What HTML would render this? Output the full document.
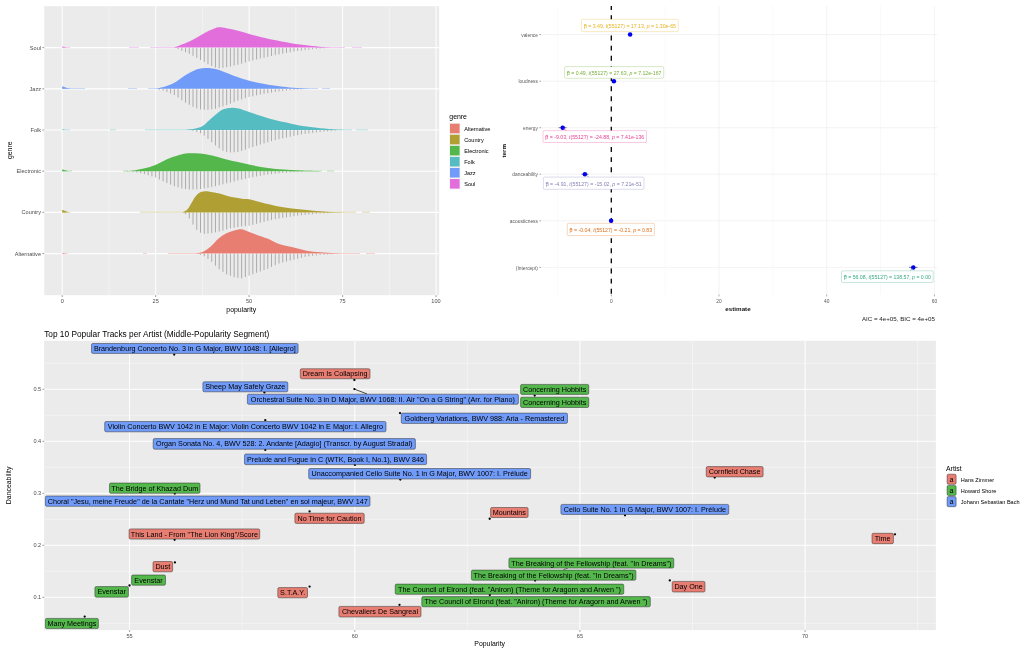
<!DOCTYPE html>
<html lang="en"><head><meta charset="utf-8"><title>Spotify genre popularity plots</title>
<style>html,body{margin:0;padding:0;background:#fff;}body{width:1024px;height:651px;overflow:hidden;font-family:'Liberation Sans', Arial, sans-serif;}svg{display:block;}</style>
</head><body>
<svg width="1024" height="651" viewBox="0 0 1024 651" font-family="'Liberation Sans', Arial, sans-serif">
<rect width="1024" height="651" fill="#FFFFFF"/>
<g id="plot1">
<rect x="44.2" y="6.2" width="395.0" height="289.0" fill="#EBEBEB"/>
<line x1="108.9" x2="108.9" y1="6.2" y2="295.2" stroke="#FAFAFA" stroke-width="0.55"/>
<line x1="202.4" x2="202.4" y1="6.2" y2="295.2" stroke="#FAFAFA" stroke-width="0.55"/>
<line x1="295.8" x2="295.8" y1="6.2" y2="295.2" stroke="#FAFAFA" stroke-width="0.55"/>
<line x1="389.3" x2="389.3" y1="6.2" y2="295.2" stroke="#FAFAFA" stroke-width="0.55"/>
<line x1="62.2" x2="62.2" y1="6.2" y2="295.2" stroke="#FFFFFF" stroke-width="1.0"/>
<line x1="155.7" x2="155.7" y1="6.2" y2="295.2" stroke="#FFFFFF" stroke-width="1.0"/>
<line x1="249.1" x2="249.1" y1="6.2" y2="295.2" stroke="#FFFFFF" stroke-width="1.0"/>
<line x1="342.6" x2="342.6" y1="6.2" y2="295.2" stroke="#FFFFFF" stroke-width="1.0"/>
<line x1="436.0" x2="436.0" y1="6.2" y2="295.2" stroke="#FFFFFF" stroke-width="1.0"/>
<line x1="44.2" x2="439.2" y1="47.6" y2="47.6" stroke="#FFFFFF" stroke-width="1.15"/>
<line x1="44.2" x2="439.2" y1="88.8" y2="88.8" stroke="#FFFFFF" stroke-width="1.15"/>
<line x1="44.2" x2="439.2" y1="130.0" y2="130.0" stroke="#FFFFFF" stroke-width="1.15"/>
<line x1="44.2" x2="439.2" y1="171.2" y2="171.2" stroke="#FFFFFF" stroke-width="1.15"/>
<line x1="44.2" x2="439.2" y1="212.4" y2="212.4" stroke="#FFFFFF" stroke-width="1.15"/>
<line x1="44.2" x2="439.2" y1="253.6" y2="253.6" stroke="#FFFFFF" stroke-width="1.15"/>
<path d="M178.08,47.60v1.62 M181.82,47.60v3.09 M185.55,47.60v4.63 M189.29,47.60v6.17 M193.03,47.60v8.21 M196.77,47.60v10.25 M200.51,47.60v12.34 M204.24,47.60v14.50 M207.98,47.60v16.66 M211.72,47.60v18.39 M215.46,47.60v19.99 M219.20,47.60v20.64 M222.93,47.60v20.21 M226.67,47.60v19.63 M230.41,47.60v18.81 M234.15,47.60v18.00 M237.89,47.60v17.18 M241.62,47.60v16.08 M245.36,47.60v14.95 M249.10,47.60v13.83 M252.84,47.60v12.86 M256.58,47.60v11.90 M260.31,47.60v10.94 M264.05,47.60v10.06 M267.79,47.60v9.23 M271.53,47.60v8.40 M275.27,47.60v7.57 M279.00,47.60v6.79 M282.74,47.60v6.07 M286.48,47.60v5.35 M290.22,47.60v4.63 M293.96,47.60v3.91 M297.69,47.60v3.34 M301.43,47.60v2.90 M305.17,47.60v2.46 M308.91,47.60v2.03 M312.65,47.60v1.60 M316.38,47.60v1.27 M320.12,47.60v0.93 M323.86,47.60v0.60" stroke="#828282" stroke-width="0.6" fill="none"/>
<line x1="62.2" x2="70" y1="47.40" y2="47.40" stroke="#E26EDC" stroke-width="0.7" opacity="0.55"/>
<line x1="129" x2="139" y1="47.40" y2="47.40" stroke="#E26EDC" stroke-width="0.7" opacity="0.55"/>
<line x1="150" x2="178" y1="47.40" y2="47.40" stroke="#E26EDC" stroke-width="0.7" opacity="0.55"/>
<line x1="316" x2="345" y1="47.40" y2="47.40" stroke="#E26EDC" stroke-width="0.7" opacity="0.55"/>
<line x1="352" x2="362" y1="47.40" y2="47.40" stroke="#E26EDC" stroke-width="0.7" opacity="0.55"/>
<path d="M62.2,47.60 L62.2,46.40 C64,46.40 66,47.30 67.0,47.60 Z" fill="#E26EDC"/>
<path d="M173.7,47.60 C174.7,47.25 176.9,46.51 179.5,45.50 C182.1,44.49 186.0,43.08 189.3,41.55 C192.6,40.02 195.8,38.09 199.1,36.30 C202.3,34.51 206.0,32.20 208.8,30.80 C211.6,29.40 213.9,28.48 215.7,27.90 C217.5,27.32 217.8,27.23 219.6,27.30 C221.4,27.37 223.3,27.72 226.4,28.30 C229.5,28.88 234.3,29.83 238.1,30.80 C241.9,31.77 245.4,33.03 249.3,34.10 C253.2,35.17 257.0,36.12 261.6,37.20 C266.2,38.28 271.5,39.45 277.2,40.60 C282.9,41.75 289.8,43.20 295.7,44.10 C301.6,45.00 307.2,45.48 312.3,46.00 C317.4,46.52 321.1,46.93 326.0,47.20 C330.9,47.47 339.3,47.53 342.0,47.60 Z" fill="#E26EDC"/>
<path d="M159.39,88.80v1.00 M163.13,88.80v1.90 M166.86,88.80v3.11 M170.60,88.80v4.65 M174.34,88.80v6.19 M178.08,88.80v8.74 M181.82,88.80v11.43 M185.55,88.80v13.94 M189.29,88.80v16.01 M193.03,88.80v18.07 M196.77,88.80v19.59 M200.51,88.80v20.59 M204.24,88.80v20.94 M207.98,88.80v20.91 M211.72,88.80v20.49 M215.46,88.80v20.01 M219.20,88.80v18.79 M222.93,88.80v17.57 M226.67,88.80v16.24 M230.41,88.80v14.77 M234.15,88.80v13.30 M237.89,88.80v11.91 M241.62,88.80v10.65 M245.36,88.80v9.39 M249.10,88.80v8.21 M252.84,88.80v7.40 M256.58,88.80v6.59 M260.31,88.80v5.77 M264.05,88.80v5.06 M267.79,88.80v4.43 M271.53,88.80v3.80 M275.27,88.80v3.17 M279.00,88.80v2.61 M282.74,88.80v2.18 M286.48,88.80v1.76 M290.22,88.80v1.37 M293.96,88.80v1.13 M297.69,88.80v0.89 M301.43,88.80v0.64" stroke="#828282" stroke-width="0.6" fill="none"/>
<line x1="62.2" x2="85" y1="88.60" y2="88.60" stroke="#709BF8" stroke-width="0.7" opacity="0.55"/>
<line x1="128" x2="137" y1="88.60" y2="88.60" stroke="#709BF8" stroke-width="0.7" opacity="0.55"/>
<line x1="148" x2="160" y1="88.60" y2="88.60" stroke="#709BF8" stroke-width="0.7" opacity="0.55"/>
<line x1="294" x2="318" y1="88.60" y2="88.60" stroke="#709BF8" stroke-width="0.7" opacity="0.55"/>
<line x1="322" x2="330" y1="88.60" y2="88.60" stroke="#709BF8" stroke-width="0.7" opacity="0.55"/>
<path d="M62.2,88.80 L62.2,86.60 C64,86.60 66,88.50 71.0,88.80 Z" fill="#709BF8"/>
<path d="M155.2,88.80 C156.8,88.42 161.7,87.54 165.0,86.50 C168.3,85.46 171.6,84.35 174.8,82.55 C178.1,80.75 181.2,77.73 184.5,75.70 C187.8,73.68 191.8,71.57 194.3,70.40 C196.8,69.23 197.5,69.08 199.5,68.70 C201.5,68.32 203.6,68.03 206.2,68.10 C208.8,68.17 212.1,68.42 215.2,69.10 C218.3,69.78 221.3,70.93 224.9,72.20 C228.5,73.47 232.7,75.30 236.6,76.70 C240.5,78.10 244.2,79.47 248.4,80.60 C252.6,81.73 257.1,82.58 262.0,83.50 C266.9,84.42 273.1,85.45 277.7,86.10 C282.3,86.75 284.8,87.02 289.4,87.40 C293.9,87.78 300.4,88.17 305.0,88.40 C309.6,88.63 314.8,88.73 316.7,88.80 Z" fill="#709BF8"/>
<path d="M193.03,130.00v1.05 M196.77,130.00v1.86 M200.51,130.00v3.24 M204.24,130.00v5.52 M207.98,130.00v8.83 M211.72,130.00v12.15 M215.46,130.00v15.47 M219.20,130.00v18.28 M222.93,130.00v20.69 M226.67,130.00v21.81 M230.41,130.00v22.47 M234.15,130.00v22.28 M237.89,130.00v21.99 M241.62,130.00v20.89 M245.36,130.00v19.61 M249.10,130.00v18.33 M252.84,130.00v17.07 M256.58,130.00v15.80 M260.31,130.00v14.54 M264.05,130.00v13.37 M267.79,130.00v12.28 M271.53,130.00v11.19 M275.27,130.00v10.10 M279.00,130.00v9.11 M282.74,130.00v8.33 M286.48,130.00v7.55 M290.22,130.00v6.76 M293.96,130.00v5.94 M297.69,130.00v5.13 M301.43,130.00v4.34 M305.17,130.00v3.85 M308.91,130.00v3.36 M312.65,130.00v2.88 M316.38,130.00v2.39 M320.12,130.00v2.01 M323.86,130.00v1.64 M327.60,130.00v1.28 M331.34,130.00v0.91 M335.07,130.00v0.65" stroke="#828282" stroke-width="0.6" fill="none"/>
<line x1="62.2" x2="70" y1="129.80" y2="129.80" stroke="#55BCC2" stroke-width="0.7" opacity="0.55"/>
<line x1="110" x2="116" y1="129.80" y2="129.80" stroke="#55BCC2" stroke-width="0.7" opacity="0.55"/>
<line x1="145" x2="192" y1="129.80" y2="129.80" stroke="#55BCC2" stroke-width="0.7" opacity="0.55"/>
<line x1="324" x2="352" y1="129.80" y2="129.80" stroke="#55BCC2" stroke-width="0.7" opacity="0.55"/>
<line x1="356" x2="368" y1="129.80" y2="129.80" stroke="#55BCC2" stroke-width="0.7" opacity="0.55"/>
<path d="M62.2,130.00 L62.2,129.60 C64,129.60 66,129.70 63.8,130.00 Z" fill="#55BCC2"/>
<path d="M185.9,130.00 C187.5,129.77 192.8,129.25 195.6,128.60 C198.4,127.95 200.2,127.50 202.5,126.10 C204.8,124.70 206.9,122.32 209.3,120.20 C211.7,118.08 214.7,115.25 217.1,113.40 C219.5,111.55 221.6,110.02 223.9,109.10 C226.2,108.18 228.4,108.00 230.8,107.90 C233.2,107.80 235.7,107.85 238.6,108.50 C241.5,109.15 244.5,110.50 248.4,111.80 C252.3,113.10 257.1,114.80 262.0,116.30 C266.9,117.80 273.1,119.65 277.7,120.80 C282.3,121.95 285.5,122.38 289.4,123.20 C293.3,124.02 296.6,124.95 301.1,125.70 C305.7,126.45 311.5,127.12 316.7,127.70 C321.9,128.28 327.4,128.82 332.3,129.20 C337.2,129.58 343.7,129.87 346.0,130.00 Z" fill="#55BCC2"/>
<path d="M133.22,171.20v0.81 M136.96,171.20v1.37 M140.70,171.20v2.12 M144.44,171.20v2.87 M148.17,171.20v3.98 M151.91,171.20v5.15 M155.65,171.20v6.49 M159.39,171.20v8.36 M163.13,171.20v10.23 M166.86,171.20v11.88 M170.60,171.20v13.42 M174.34,171.20v14.94 M178.08,171.20v16.11 M181.82,171.20v17.28 M185.55,171.20v17.80 M189.29,171.20v18.29 M193.03,171.20v18.23 M196.77,171.20v18.07 M200.51,171.20v17.82 M204.24,171.20v17.28 M207.98,171.20v16.73 M211.72,171.20v15.94 M215.46,171.20v14.99 M219.20,171.20v14.05 M222.93,171.20v13.10 M226.67,171.20v12.15 M230.41,171.20v11.19 M234.15,171.20v10.24 M237.89,171.20v9.32 M241.62,171.20v8.46 M245.36,171.20v7.61 M249.10,171.20v6.75 M252.84,171.20v5.93 M256.58,171.20v5.30 M260.31,171.20v4.66 M264.05,171.20v4.03 M267.79,171.20v3.40 M271.53,171.20v2.97 M275.27,171.20v2.56 M279.00,171.20v2.14 M282.74,171.20v1.73 M286.48,171.20v1.45 M290.22,171.20v1.22 M293.96,171.20v0.99 M297.69,171.20v0.76 M301.43,171.20v0.57" stroke="#828282" stroke-width="0.6" fill="none"/>
<line x1="62.2" x2="72" y1="171.00" y2="171.00" stroke="#53B74C" stroke-width="0.7" opacity="0.55"/>
<line x1="123" x2="128" y1="171.00" y2="171.00" stroke="#53B74C" stroke-width="0.7" opacity="0.55"/>
<line x1="290" x2="322" y1="171.00" y2="171.00" stroke="#53B74C" stroke-width="0.7" opacity="0.55"/>
<line x1="327" x2="334" y1="171.00" y2="171.00" stroke="#53B74C" stroke-width="0.7" opacity="0.55"/>
<path d="M62.2,171.20 L62.2,169.60 C64,169.60 66,170.90 68.6,171.20 Z" fill="#53B74C"/>
<path d="M125.4,171.20 C127.0,171.03 131.9,170.68 135.2,170.20 C138.4,169.72 141.7,169.12 144.9,168.30 C148.2,167.48 151.4,166.60 154.7,165.30 C158.0,164.00 161.2,161.95 164.5,160.50 C167.8,159.05 171.3,157.65 174.2,156.60 C177.1,155.55 179.4,154.77 182.0,154.20 C184.6,153.63 186.9,153.30 189.8,153.20 C192.7,153.10 196.3,153.30 199.6,153.60 C202.9,153.90 205.8,154.28 209.4,155.00 C213.0,155.72 216.6,156.77 221.1,157.90 C225.6,159.03 231.5,160.57 236.7,161.80 C241.9,163.03 247.1,164.28 252.3,165.30 C257.5,166.32 262.8,167.18 268.0,167.90 C273.2,168.62 278.3,169.15 283.6,169.60 C288.9,170.05 293.9,170.33 300.0,170.60 C306.1,170.87 316.7,171.10 320.0,171.20 Z" fill="#53B74C"/>
<path d="M185.55,212.40v1.88 M189.29,212.40v5.99 M193.03,212.40v12.10 M196.77,212.40v17.51 M200.51,212.40v20.29 M204.24,212.40v21.34 M207.98,212.40v21.12 M211.72,212.40v20.63 M215.46,212.40v19.96 M219.20,212.40v19.23 M222.93,212.40v18.21 M226.67,212.40v17.04 M230.41,212.40v15.89 M234.15,212.40v15.27 M237.89,212.40v14.66 M241.62,212.40v14.04 M245.36,212.40v13.69 M249.10,212.40v13.38 M252.84,212.40v12.39 M256.58,212.40v11.37 M260.31,212.40v10.35 M264.05,212.40v9.43 M267.79,212.40v8.56 M271.53,212.40v7.69 M275.27,212.40v6.82 M279.00,212.40v6.10 M282.74,212.40v5.52 M286.48,212.40v4.94 M290.22,212.40v4.37 M293.96,212.40v3.79 M297.69,212.40v3.27 M301.43,212.40v2.90 M305.17,212.40v2.53 M308.91,212.40v2.16 M312.65,212.40v1.79 M316.38,212.40v1.42 M320.12,212.40v1.19 M323.86,212.40v0.95 M327.60,212.40v0.72" stroke="#828282" stroke-width="0.6" fill="none"/>
<line x1="62.2" x2="66" y1="212.20" y2="212.20" stroke="#B0A033" stroke-width="0.7" opacity="0.55"/>
<line x1="140" x2="185" y1="212.20" y2="212.20" stroke="#B0A033" stroke-width="0.7" opacity="0.55"/>
<line x1="322" x2="356" y1="212.20" y2="212.20" stroke="#B0A033" stroke-width="0.7" opacity="0.55"/>
<line x1="362" x2="370" y1="212.20" y2="212.20" stroke="#B0A033" stroke-width="0.7" opacity="0.55"/>
<path d="M62.2,212.40 L62.2,210.00 C64,210.00 66,212.10 71.8,212.40 Z" fill="#B0A033"/>
<path d="M182.5,212.40 C183.3,211.92 185.8,210.97 187.3,209.50 C188.8,208.03 189.9,205.72 191.2,203.60 C192.6,201.48 193.9,198.58 195.2,196.80 C196.5,195.02 197.5,193.82 199.1,192.90 C200.7,191.98 202.6,191.40 204.9,191.30 C207.2,191.20 210.1,191.88 212.7,192.30 C215.3,192.72 217.6,193.05 220.5,193.80 C223.4,194.55 226.7,195.98 230.3,196.80 C233.9,197.62 238.8,198.28 242.0,198.70 C245.2,199.12 246.0,198.65 249.3,199.30 C252.6,199.95 257.0,201.46 261.6,202.60 C266.2,203.74 271.4,205.07 277.2,206.15 C283.0,207.23 290.2,208.29 296.7,209.10 C303.2,209.91 309.7,210.48 316.2,211.00 C322.8,211.52 329.9,211.97 335.8,212.20 C341.7,212.40 348.8,212.37 351.4,212.40 Z" fill="#B0A033"/>
<path d="M200.51,253.60v1.25 M204.24,253.60v2.71 M207.98,253.60v5.35 M211.72,253.60v8.28 M215.46,253.60v12.10 M219.20,253.60v15.71 M222.93,253.60v18.30 M226.67,253.60v20.81 M230.41,253.60v22.23 M234.15,253.60v23.64 M237.89,253.60v24.24 M241.62,253.60v24.83 M245.36,253.60v23.53 M249.10,253.60v22.01 M252.84,253.60v20.60 M256.58,253.60v19.19 M260.31,253.60v17.83 M264.05,253.60v16.50 M267.79,253.60v15.12 M271.53,253.60v13.36 M275.27,253.60v11.60 M279.00,253.60v9.84 M282.74,253.60v8.88 M286.48,253.60v7.95 M290.22,253.60v7.02 M293.96,253.60v6.09 M297.69,253.60v5.15 M301.43,253.60v4.22 M305.17,253.60v3.29 M308.91,253.60v2.69 M312.65,253.60v2.27 M316.38,253.60v1.85 M320.12,253.60v1.44 M323.86,253.60v1.19 M327.60,253.60v0.94 M331.34,253.60v0.70" stroke="#828282" stroke-width="0.6" fill="none"/>
<line x1="62.2" x2="68" y1="253.40" y2="253.40" stroke="#E87D72" stroke-width="0.7" opacity="0.55"/>
<line x1="143" x2="147" y1="253.40" y2="253.40" stroke="#E87D72" stroke-width="0.7" opacity="0.55"/>
<line x1="168" x2="200" y1="253.40" y2="253.40" stroke="#E87D72" stroke-width="0.7" opacity="0.55"/>
<line x1="324" x2="360" y1="253.40" y2="253.40" stroke="#E87D72" stroke-width="0.7" opacity="0.55"/>
<line x1="366" x2="375" y1="253.40" y2="253.40" stroke="#E87D72" stroke-width="0.7" opacity="0.55"/>
<path d="M62.2,253.60 L62.2,253.00 C64,253.00 66,253.30 64.6,253.60 Z" fill="#E87D72"/>
<path d="M195.2,253.60 C196.5,253.30 200.4,253.00 203.0,251.80 C205.6,250.60 208.2,248.60 210.8,246.40 C213.4,244.20 216.0,240.78 218.6,238.60 C221.2,236.42 223.8,234.67 226.4,233.30 C229.0,231.93 231.6,231.08 234.2,230.40 C236.8,229.72 239.5,228.92 242.0,229.20 C244.5,229.48 246.7,231.10 249.3,232.10 C251.9,233.10 254.7,234.12 257.7,235.20 C260.7,236.28 263.8,237.13 267.4,238.60 C271.0,240.07 274.9,242.54 279.1,244.00 C283.3,245.46 288.2,246.23 292.8,247.35 C297.4,248.47 301.9,249.89 306.5,250.70 C311.1,251.51 315.3,251.78 320.2,252.20 C325.1,252.62 329.9,252.97 335.8,253.20 C341.7,253.43 352.1,253.53 355.3,253.60 Z" fill="#E87D72"/>
<line x1="42.4" x2="44.2" y1="47.6" y2="47.6" stroke="#333" stroke-width="0.5"/>
<text x="41" y="49.6" font-size="5.57" fill="#4D4D4D" text-anchor="end">Soul</text>
<line x1="42.4" x2="44.2" y1="88.8" y2="88.8" stroke="#333" stroke-width="0.5"/>
<text x="41" y="90.8" font-size="5.57" fill="#4D4D4D" text-anchor="end">Jazz</text>
<line x1="42.4" x2="44.2" y1="130.0" y2="130.0" stroke="#333" stroke-width="0.5"/>
<text x="41" y="132.0" font-size="5.57" fill="#4D4D4D" text-anchor="end">Folk</text>
<line x1="42.4" x2="44.2" y1="171.2" y2="171.2" stroke="#333" stroke-width="0.5"/>
<text x="41" y="173.2" font-size="5.57" fill="#4D4D4D" text-anchor="end">Electronic</text>
<line x1="42.4" x2="44.2" y1="212.4" y2="212.4" stroke="#333" stroke-width="0.5"/>
<text x="41" y="214.4" font-size="5.57" fill="#4D4D4D" text-anchor="end">Country</text>
<line x1="42.4" x2="44.2" y1="253.6" y2="253.6" stroke="#333" stroke-width="0.5"/>
<text x="41" y="255.6" font-size="5.57" fill="#4D4D4D" text-anchor="end">Alternative</text>
<line x1="62.2" x2="62.2" y1="295.2" y2="297" stroke="#333" stroke-width="0.5"/>
<text x="62.2" y="303" font-size="5.57" fill="#4D4D4D" text-anchor="middle">0</text>
<line x1="155.7" x2="155.7" y1="295.2" y2="297" stroke="#333" stroke-width="0.5"/>
<text x="155.7" y="303" font-size="5.57" fill="#4D4D4D" text-anchor="middle">25</text>
<line x1="249.1" x2="249.1" y1="295.2" y2="297" stroke="#333" stroke-width="0.5"/>
<text x="249.1" y="303" font-size="5.57" fill="#4D4D4D" text-anchor="middle">50</text>
<line x1="342.6" x2="342.6" y1="295.2" y2="297" stroke="#333" stroke-width="0.5"/>
<text x="342.6" y="303" font-size="5.57" fill="#4D4D4D" text-anchor="middle">75</text>
<line x1="436.0" x2="436.0" y1="295.2" y2="297" stroke="#333" stroke-width="0.5"/>
<text x="436.0" y="303" font-size="5.57" fill="#4D4D4D" text-anchor="middle">100</text>
<text x="241.3" y="311.6" font-size="6.9" fill="#000" text-anchor="middle">popularity</text>
<text transform="translate(11.6,150.3) rotate(-90)" font-size="6.9" fill="#000" text-anchor="middle">genre</text>
<text x="449.3" y="118.9" font-size="6.9" fill="#000">genre</text>
<rect x="449.3" y="123.00" width="11" height="11.06" fill="#F2F2F2"/>
<rect x="450" y="123.70" width="9.6" height="9.6" fill="#E87D72"/>
<text x="464.2" y="130.60" font-size="5.57" fill="#000">Alternative</text>
<rect x="449.3" y="134.06" width="11" height="11.06" fill="#F2F2F2"/>
<rect x="450" y="134.76" width="9.6" height="9.6" fill="#B0A033"/>
<text x="464.2" y="141.66" font-size="5.57" fill="#000">Country</text>
<rect x="449.3" y="145.12" width="11" height="11.06" fill="#F2F2F2"/>
<rect x="450" y="145.82" width="9.6" height="9.6" fill="#53B74C"/>
<text x="464.2" y="152.72" font-size="5.57" fill="#000">Electronic</text>
<rect x="449.3" y="156.18" width="11" height="11.06" fill="#F2F2F2"/>
<rect x="450" y="156.88" width="9.6" height="9.6" fill="#55BCC2"/>
<text x="464.2" y="163.78" font-size="5.57" fill="#000">Folk</text>
<rect x="449.3" y="167.24" width="11" height="11.06" fill="#F2F2F2"/>
<rect x="450" y="167.94" width="9.6" height="9.6" fill="#709BF8"/>
<text x="464.2" y="174.84" font-size="5.57" fill="#000">Jazz</text>
<rect x="449.3" y="178.30" width="11" height="11.06" fill="#F2F2F2"/>
<rect x="450" y="179.00" width="9.6" height="9.6" fill="#E26EDC"/>
<text x="464.2" y="185.90" font-size="5.57" fill="#000">Soul</text>
</g>
<g id="plot2">
<line x1="557.4" x2="557.4" y1="6.0" y2="294.5" stroke="#F2F2F2" stroke-width="0.5"/>
<line x1="665.1" x2="665.1" y1="6.0" y2="294.5" stroke="#F2F2F2" stroke-width="0.5"/>
<line x1="772.8" x2="772.8" y1="6.0" y2="294.5" stroke="#F2F2F2" stroke-width="0.5"/>
<line x1="880.5" x2="880.5" y1="6.0" y2="294.5" stroke="#F2F2F2" stroke-width="0.5"/>
<line x1="611.3" x2="611.3" y1="6.0" y2="294.5" stroke="#EBEBEB" stroke-width="0.6"/>
<line x1="719.0" x2="719.0" y1="6.0" y2="294.5" stroke="#EBEBEB" stroke-width="0.6"/>
<line x1="826.7" x2="826.7" y1="6.0" y2="294.5" stroke="#EBEBEB" stroke-width="0.6"/>
<line x1="934.4" x2="934.4" y1="6.0" y2="294.5" stroke="#EBEBEB" stroke-width="0.6"/>
<line x1="541.3" x2="937.2" y1="34.6" y2="34.6" stroke="#EBEBEB" stroke-width="0.6"/>
<line x1="541.3" x2="937.2" y1="81.2" y2="81.2" stroke="#EBEBEB" stroke-width="0.6"/>
<line x1="541.3" x2="937.2" y1="127.7" y2="127.7" stroke="#EBEBEB" stroke-width="0.6"/>
<line x1="541.3" x2="937.2" y1="174.2" y2="174.2" stroke="#EBEBEB" stroke-width="0.6"/>
<line x1="541.3" x2="937.2" y1="220.8" y2="220.8" stroke="#EBEBEB" stroke-width="0.6"/>
<line x1="541.3" x2="937.2" y1="267.4" y2="267.4" stroke="#EBEBEB" stroke-width="0.6"/>
<line x1="611.3" x2="611.3" y1="6" y2="294.5" stroke="#000" stroke-width="1.3" stroke-dasharray="4.9 5.23" stroke-dashoffset="0.8"/>
<line x1="627.9" x2="632.2" y1="34.6" y2="34.6" stroke="#000" stroke-width="0.5"/>
<circle cx="630.1" cy="34.6" r="2.25" fill="#0000F0"/>
<line x1="613.7" x2="614.2" y1="81.2" y2="81.2" stroke="#000" stroke-width="0.5"/>
<circle cx="613.9" cy="81.2" r="2.25" fill="#0000F0"/>
<line x1="558.6" x2="566.7" y1="127.7" y2="127.7" stroke="#000" stroke-width="0.5"/>
<circle cx="562.7" cy="127.7" r="2.25" fill="#0000F0"/>
<line x1="581.4" x2="588.4" y1="174.2" y2="174.2" stroke="#000" stroke-width="0.5"/>
<circle cx="584.9" cy="174.2" r="2.25" fill="#0000F0"/>
<line x1="609.2" x2="613.0" y1="220.8" y2="220.8" stroke="#000" stroke-width="0.5"/>
<circle cx="611.1" cy="220.8" r="2.25" fill="#0000F0"/>
<line x1="909.0" x2="917.6" y1="267.4" y2="267.4" stroke="#000" stroke-width="0.5"/>
<circle cx="913.3" cy="267.4" r="2.25" fill="#0000F0"/>
<rect x="581.5" y="19.3" width="96.8" height="12.3" rx="1.2" fill="#FFFFFF" stroke="#E6AB02" stroke-width="0.45" stroke-opacity="0.55"/>
<text x="583.8" y="28.2" font-size="5.2" fill="#E6AB02" fill-opacity="0.9" textLength="92.2" lengthAdjust="spacingAndGlyphs">β = 3.49, <tspan font-style="italic">t</tspan>(55127) = 17.13, <tspan font-style="italic">p</tspan> = 1.30e-65</text>
<text transform="translate(583.7,27.0) scale(1.15,0.6)" font-size="6" fill="#E6AB02" fill-opacity="0.9">^</text>
<rect x="564.5" y="66.6" width="99.2" height="11.7" rx="1.2" fill="#FFFFFF" stroke="#66A61E" stroke-width="0.45" stroke-opacity="0.55"/>
<text x="566.8" y="75.2" font-size="5.2" fill="#66A61E" fill-opacity="0.9" textLength="94.6" lengthAdjust="spacingAndGlyphs">β = 0.49, <tspan font-style="italic">t</tspan>(55127) = 27.63, <tspan font-style="italic">p</tspan> = 7.12e-167</text>
<text transform="translate(566.7,74.0) scale(1.15,0.6)" font-size="6" fill="#66A61E" fill-opacity="0.9">^</text>
<line x1="563.5" y1="128.5" x2="566.7" y2="130.6" stroke="#E7298A" stroke-width="0.5"/>
<rect x="543" y="130.6" width="103.5" height="11.9" rx="1.2" fill="#FFFFFF" stroke="#E7298A" stroke-width="0.45" stroke-opacity="0.55"/>
<text x="545.3" y="139.3" font-size="5.2" fill="#E7298A" fill-opacity="0.9" textLength="98.9" lengthAdjust="spacingAndGlyphs">β = -9.03, <tspan font-style="italic">t</tspan>(55127) = -24.88, <tspan font-style="italic">p</tspan> = 7.41e-136</text>
<text transform="translate(545.2,138.1) scale(1.15,0.6)" font-size="6" fill="#E7298A" fill-opacity="0.9">^</text>
<line x1="585.7" y1="175.0" x2="588.9" y2="177.1" stroke="#7570B3" stroke-width="0.5"/>
<rect x="543.4" y="177.1" width="100.6" height="12.2" rx="1.2" fill="#FFFFFF" stroke="#7570B3" stroke-width="0.45" stroke-opacity="0.55"/>
<text x="545.7" y="185.9" font-size="5.2" fill="#7570B3" fill-opacity="0.9" textLength="96.0" lengthAdjust="spacingAndGlyphs">β = -4.91, <tspan font-style="italic">t</tspan>(55127) = -15.02, <tspan font-style="italic">p</tspan> = 7.21e-51</text>
<text transform="translate(545.6,184.8) scale(1.15,0.6)" font-size="6" fill="#7570B3" fill-opacity="0.9">^</text>
<rect x="567.3" y="223.3" width="87.1" height="12.3" rx="1.2" fill="#FFFFFF" stroke="#D95F02" stroke-width="0.45" stroke-opacity="0.55"/>
<text x="569.6" y="232.2" font-size="5.2" fill="#D95F02" fill-opacity="0.9" textLength="82.5" lengthAdjust="spacingAndGlyphs">β = -0.04, <tspan font-style="italic">t</tspan>(55127) = -0.21, <tspan font-style="italic">p</tspan> = 0.83</text>
<text transform="translate(569.5,231.0) scale(1.15,0.6)" font-size="6" fill="#D95F02" fill-opacity="0.9">^</text>
<line x1="912.5" y1="268.2" x2="910.3" y2="270.8" stroke="#1B9E77" stroke-width="0.5"/>
<rect x="841.5" y="270.8" width="91.7" height="11.7" rx="1.2" fill="#FFFFFF" stroke="#1B9E77" stroke-width="0.45" stroke-opacity="0.55"/>
<text x="843.8" y="279.4" font-size="5.2" fill="#1B9E77" fill-opacity="0.9" textLength="87.1" lengthAdjust="spacingAndGlyphs">β = 56.08, <tspan font-style="italic">t</tspan>(55127) = 138.57, <tspan font-style="italic">p</tspan> = 0.00</text>
<text transform="translate(843.7,278.2) scale(1.15,0.6)" font-size="6" fill="#1B9E77" fill-opacity="0.9">^</text>
<line x1="539.3" x2="541.1" y1="34.6" y2="34.6" stroke="#555" stroke-width="0.5"/>
<text x="538" y="36.7" font-size="4.88" fill="#5A5A5A" text-anchor="end">valence</text>
<line x1="539.3" x2="541.1" y1="81.2" y2="81.2" stroke="#555" stroke-width="0.5"/>
<text x="538" y="83.2" font-size="4.88" fill="#5A5A5A" text-anchor="end">loudness</text>
<line x1="539.3" x2="541.1" y1="127.7" y2="127.7" stroke="#555" stroke-width="0.5"/>
<text x="538" y="129.8" font-size="4.88" fill="#5A5A5A" text-anchor="end">energy</text>
<line x1="539.3" x2="541.1" y1="174.2" y2="174.2" stroke="#555" stroke-width="0.5"/>
<text x="538" y="176.3" font-size="4.88" fill="#5A5A5A" text-anchor="end">danceability</text>
<line x1="539.3" x2="541.1" y1="220.8" y2="220.8" stroke="#555" stroke-width="0.5"/>
<text x="538" y="222.9" font-size="4.88" fill="#5A5A5A" text-anchor="end">acousticness</text>
<line x1="539.3" x2="541.1" y1="267.4" y2="267.4" stroke="#555" stroke-width="0.5"/>
<text x="538" y="269.5" font-size="4.88" fill="#5A5A5A" text-anchor="end">(Intercept)</text>
<line x1="611.3" x2="611.3" y1="294.6" y2="296.4" stroke="#555" stroke-width="0.5"/>
<text x="611.3" y="302.5" font-size="4.88" fill="#5A5A5A" text-anchor="middle">0</text>
<line x1="719.0" x2="719.0" y1="294.6" y2="296.4" stroke="#555" stroke-width="0.5"/>
<text x="719.0" y="302.5" font-size="4.88" fill="#5A5A5A" text-anchor="middle">20</text>
<line x1="826.7" x2="826.7" y1="294.6" y2="296.4" stroke="#555" stroke-width="0.5"/>
<text x="826.7" y="302.5" font-size="4.88" fill="#5A5A5A" text-anchor="middle">40</text>
<line x1="934.4" x2="934.4" y1="294.6" y2="296.4" stroke="#555" stroke-width="0.5"/>
<text x="934.4" y="302.5" font-size="4.88" fill="#5A5A5A" text-anchor="middle">60</text>
<text x="738" y="310.6" font-size="6.26" font-weight="bold" fill="#111" text-anchor="middle">estimate</text>
<text transform="translate(505.8,150.7) rotate(-90)" font-size="6.26" font-weight="bold" fill="#111" text-anchor="middle">term</text>
<text x="934.9" y="321.1" font-size="6.2" fill="#222" text-anchor="end">AIC = 4e+05, BIC = 4e+05</text>
</g>
<g id="plot3">
<text x="44.2" y="336.9" font-size="8.31" fill="#000">Top 10 Popular Tracks per Artist (Middle-Popularity Segment)</text>
<rect x="44.1" y="340.8" width="891.8" height="289.3" fill="#EBEBEB"/>
<line x1="242.2" x2="242.2" y1="340.8" y2="630.1" stroke="#FAFAFA" stroke-width="0.55"/>
<line x1="467.3" x2="467.3" y1="340.8" y2="630.1" stroke="#FAFAFA" stroke-width="0.55"/>
<line x1="692.5" x2="692.5" y1="340.8" y2="630.1" stroke="#FAFAFA" stroke-width="0.55"/>
<line x1="917.6" x2="917.6" y1="340.8" y2="630.1" stroke="#FAFAFA" stroke-width="0.55"/>
<line x1="44.1" x2="935.9" y1="623.3" y2="623.3" stroke="#FAFAFA" stroke-width="0.55"/>
<line x1="44.1" x2="935.9" y1="571.3" y2="571.3" stroke="#FAFAFA" stroke-width="0.55"/>
<line x1="44.1" x2="935.9" y1="519.3" y2="519.3" stroke="#FAFAFA" stroke-width="0.55"/>
<line x1="44.1" x2="935.9" y1="467.3" y2="467.3" stroke="#FAFAFA" stroke-width="0.55"/>
<line x1="44.1" x2="935.9" y1="415.3" y2="415.3" stroke="#FAFAFA" stroke-width="0.55"/>
<line x1="44.1" x2="935.9" y1="363.3" y2="363.3" stroke="#FAFAFA" stroke-width="0.55"/>
<line x1="129.6" x2="129.6" y1="340.8" y2="630.1" stroke="#FFFFFF" stroke-width="1.0"/>
<line x1="354.8" x2="354.8" y1="340.8" y2="630.1" stroke="#FFFFFF" stroke-width="1.0"/>
<line x1="579.9" x2="579.9" y1="340.8" y2="630.1" stroke="#FFFFFF" stroke-width="1.0"/>
<line x1="805.1" x2="805.1" y1="340.8" y2="630.1" stroke="#FFFFFF" stroke-width="1.0"/>
<line x1="44.1" x2="935.9" y1="597.3" y2="597.3" stroke="#FFFFFF" stroke-width="1.0"/>
<line x1="44.1" x2="935.9" y1="545.3" y2="545.3" stroke="#FFFFFF" stroke-width="1.0"/>
<line x1="44.1" x2="935.9" y1="493.3" y2="493.3" stroke="#FFFFFF" stroke-width="1.0"/>
<line x1="44.1" x2="935.9" y1="441.3" y2="441.3" stroke="#FFFFFF" stroke-width="1.0"/>
<line x1="44.1" x2="935.9" y1="389.3" y2="389.3" stroke="#FFFFFF" stroke-width="1.0"/>
<circle cx="174.2" cy="354.6" r="1.15" fill="#000"/>
<circle cx="354.4" cy="380" r="1.15" fill="#000"/>
<circle cx="264.4" cy="392.4" r="1.15" fill="#000"/>
<circle cx="354.4" cy="389.1" r="1.15" fill="#000"/>
<circle cx="534.7" cy="395.6" r="1.15" fill="#000"/>
<circle cx="400" cy="413.1" r="1.15" fill="#000"/>
<circle cx="265.3" cy="420.2" r="1.15" fill="#000"/>
<circle cx="265.3" cy="449.9" r="1.15" fill="#000"/>
<circle cx="354.9" cy="464.9" r="1.15" fill="#000"/>
<circle cx="400.3" cy="479.6" r="1.15" fill="#000"/>
<circle cx="714.7" cy="477.5" r="1.15" fill="#000"/>
<circle cx="174.8" cy="493.6" r="1.15" fill="#000"/>
<circle cx="309.6" cy="511.4" r="1.15" fill="#000"/>
<circle cx="489.7" cy="518.75" r="1.15" fill="#000"/>
<circle cx="625" cy="515.3" r="1.15" fill="#000"/>
<circle cx="174.6" cy="539.8" r="1.15" fill="#000"/>
<circle cx="895" cy="534.3" r="1.15" fill="#000"/>
<circle cx="174.9" cy="562.4" r="1.15" fill="#000"/>
<circle cx="129.5" cy="585.5" r="1.15" fill="#000"/>
<circle cx="84.7" cy="616.6" r="1.15" fill="#000"/>
<circle cx="309.6" cy="586.6" r="1.15" fill="#000"/>
<circle cx="399.5" cy="604.8" r="1.15" fill="#000"/>
<circle cx="535.1" cy="580.6" r="1.15" fill="#000"/>
<circle cx="489.8" cy="595" r="1.15" fill="#000"/>
<circle cx="669.8" cy="580.4" r="1.15" fill="#000"/>
<line x1="354.4" y1="389.1" x2="366.9" y2="393.9" stroke="#000" stroke-width="0.7"/>
<line x1="563.3" y1="569.7" x2="567.8" y2="568.2" stroke="#000" stroke-width="0.5"/>
<rect x="91.5" y="343.5" width="206.60" height="9.90" rx="1.4" fill="#709BF8" stroke="#2E2E2E" stroke-width="0.5"/>
<text x="194.80" y="351.00" font-size="7.21" fill="#000" text-anchor="middle">Brandenburg Concerto No. 3 in G Major, BWV 1048: I. [Allegro]</text>
<rect x="300.3" y="368.75" width="69.70" height="10.00" rx="1.4" fill="#E87D72" stroke="#2E2E2E" stroke-width="0.5"/>
<text x="335.15" y="376.30" font-size="7.21" fill="#000" text-anchor="middle">Dream Is Collapsing</text>
<rect x="202.9" y="381.8" width="84.90" height="10.00" rx="1.4" fill="#709BF8" stroke="#2E2E2E" stroke-width="0.5"/>
<text x="245.35" y="389.35" font-size="7.21" fill="#000" text-anchor="middle">Sheep May Safely Graze</text>
<rect x="247.4" y="394.2" width="271.00" height="10.10" rx="1.4" fill="#709BF8" stroke="#2E2E2E" stroke-width="0.5"/>
<text x="382.90" y="401.80" font-size="7.21" fill="#000" text-anchor="middle">Orchestral Suite No. 3 in D Major, BWV 1068: II. Air &quot;On a G String&quot; (Arr. for Piano)</text>
<rect x="520.6" y="384.4" width="68.15" height="10.00" rx="1.4" fill="#53B74C" stroke="#2E2E2E" stroke-width="0.5"/>
<text x="554.67" y="391.95" font-size="7.21" fill="#000" text-anchor="middle">Concerning Hobbits</text>
<rect x="520.6" y="397.2" width="68.15" height="10.30" rx="1.4" fill="#53B74C" stroke="#2E2E2E" stroke-width="0.5"/>
<text x="554.67" y="404.90" font-size="7.21" fill="#000" text-anchor="middle">Concerning Hobbits</text>
<rect x="401.25" y="413.1" width="166.25" height="10.30" rx="1.4" fill="#709BF8" stroke="#2E2E2E" stroke-width="0.5"/>
<text x="484.38" y="420.80" font-size="7.21" fill="#000" text-anchor="middle">Goldberg Variations, BWV 988: Aria - Remastered</text>
<rect x="104.7" y="421.5" width="281.30" height="10.30" rx="1.4" fill="#709BF8" stroke="#2E2E2E" stroke-width="0.5"/>
<text x="245.35" y="429.20" font-size="7.21" fill="#000" text-anchor="middle">Violin Concerto BWV 1042 in E Major: Violin Concerto BWV 1042 in E Major: I. Allegro</text>
<rect x="153.2" y="438.6" width="262.20" height="10.60" rx="1.4" fill="#709BF8" stroke="#2E2E2E" stroke-width="0.5"/>
<text x="284.30" y="446.45" font-size="7.21" fill="#000" text-anchor="middle">Organ Sonata No. 4, BWV 528: 2. Andante [Adagio] (Transcr. by August Stradal)</text>
<rect x="244.5" y="454" width="182.10" height="10.60" rx="1.4" fill="#709BF8" stroke="#2E2E2E" stroke-width="0.5"/>
<text x="335.55" y="461.85" font-size="7.21" fill="#000" text-anchor="middle">Prelude and Fugue in C (WTK, Book I, No.1), BWV 846</text>
<rect x="308.7" y="468.5" width="221.90" height="10.50" rx="1.4" fill="#709BF8" stroke="#2E2E2E" stroke-width="0.5"/>
<text x="419.65" y="476.30" font-size="7.21" fill="#000" text-anchor="middle">Unaccompanied Cello Suite No. 1 in G Major, BWV 1007: I. Prélude</text>
<rect x="706.25" y="466.6" width="56.85" height="10.30" rx="1.4" fill="#E87D72" stroke="#2E2E2E" stroke-width="0.5"/>
<text x="734.67" y="474.30" font-size="7.21" fill="#000" text-anchor="middle">Cornfield Chase</text>
<rect x="109.5" y="483" width="90.50" height="10.30" rx="1.4" fill="#53B74C" stroke="#2E2E2E" stroke-width="0.5"/>
<text x="154.75" y="490.70" font-size="7.21" fill="#000" text-anchor="middle">The Bridge of Khazad Dum</text>
<rect x="45.4" y="496" width="324.60" height="10.30" rx="1.4" fill="#709BF8" stroke="#2E2E2E" stroke-width="0.5"/>
<text x="207.70" y="503.70" font-size="7.21" fill="#000" text-anchor="middle">Choral &quot;Jesu, meine Freude&quot; de la Cantate &quot;Herz und Mund Tat und Leben&quot; en sol majeur, BWV 147</text>
<rect x="294.9" y="513.2" width="69.30" height="10.20" rx="1.4" fill="#E87D72" stroke="#2E2E2E" stroke-width="0.5"/>
<text x="329.55" y="520.85" font-size="7.21" fill="#000" text-anchor="middle">No Time for Caution</text>
<rect x="490.6" y="507.5" width="37.50" height="10.00" rx="1.4" fill="#E87D72" stroke="#2E2E2E" stroke-width="0.5"/>
<text x="509.35" y="515.05" font-size="7.21" fill="#000" text-anchor="middle">Mountains</text>
<rect x="560.9" y="504.4" width="167.85" height="10.00" rx="1.4" fill="#709BF8" stroke="#2E2E2E" stroke-width="0.5"/>
<text x="644.83" y="511.95" font-size="7.21" fill="#000" text-anchor="middle">Cello Suite No. 1 in G Major, BWV 1007: I. Prélude</text>
<rect x="129.1" y="528.9" width="130.60" height="10.20" rx="1.4" fill="#E87D72" stroke="#2E2E2E" stroke-width="0.5"/>
<text x="194.40" y="536.55" font-size="7.21" fill="#000" text-anchor="middle">This Land - From &quot;The Lion King&quot;/Score</text>
<rect x="872" y="533.3" width="21.40" height="10.40" rx="1.4" fill="#E87D72" stroke="#2E2E2E" stroke-width="0.5"/>
<text x="882.70" y="541.05" font-size="7.21" fill="#000" text-anchor="middle">Time</text>
<rect x="153" y="561.5" width="19.60" height="10.30" rx="1.4" fill="#E87D72" stroke="#2E2E2E" stroke-width="0.5"/>
<text x="162.80" y="569.20" font-size="7.21" fill="#000" text-anchor="middle">Dust</text>
<rect x="131.6" y="575" width="33.90" height="10.20" rx="1.4" fill="#53B74C" stroke="#2E2E2E" stroke-width="0.5"/>
<text x="148.55" y="582.65" font-size="7.21" fill="#000" text-anchor="middle">Evenstar</text>
<rect x="94.9" y="586.6" width="33.50" height="10.60" rx="1.4" fill="#53B74C" stroke="#2E2E2E" stroke-width="0.5"/>
<text x="111.65" y="594.45" font-size="7.21" fill="#000" text-anchor="middle">Evenstar</text>
<rect x="45.4" y="618.4" width="53.00" height="10.20" rx="1.4" fill="#53B74C" stroke="#2E2E2E" stroke-width="0.5"/>
<text x="71.90" y="626.05" font-size="7.21" fill="#000" text-anchor="middle">Many Meetings</text>
<rect x="277.8" y="587.6" width="29.70" height="10.20" rx="1.4" fill="#E87D72" stroke="#2E2E2E" stroke-width="0.5"/>
<text x="292.65" y="595.25" font-size="7.21" fill="#000" text-anchor="middle">S.T.A.Y.</text>
<rect x="338.9" y="606.4" width="82.10" height="10.60" rx="1.4" fill="#E87D72" stroke="#2E2E2E" stroke-width="0.5"/>
<text x="379.95" y="614.25" font-size="7.21" fill="#000" text-anchor="middle">Chevaliers De Sangreal</text>
<rect x="508.9" y="558" width="164.85" height="10.10" rx="1.4" fill="#53B74C" stroke="#2E2E2E" stroke-width="0.5"/>
<text x="591.33" y="565.60" font-size="7.21" fill="#000" text-anchor="middle">The Breaking of the Fellowship (feat. &quot;In Dreams&quot;)</text>
<rect x="471.4" y="570.1" width="164.50" height="10.10" rx="1.4" fill="#53B74C" stroke="#2E2E2E" stroke-width="0.5"/>
<text x="553.65" y="577.70" font-size="7.21" fill="#000" text-anchor="middle">The Breaking of the Fellowship (feat. &quot;In Dreams&quot;)</text>
<rect x="395.2" y="584.1" width="228.55" height="10.20" rx="1.4" fill="#53B74C" stroke="#2E2E2E" stroke-width="0.5"/>
<text x="509.48" y="591.75" font-size="7.21" fill="#000" text-anchor="middle">The Council of Elrond (feat. &quot;Aniron) (Theme for Aragorn and Arwen &quot;)</text>
<rect x="421.8" y="596.6" width="228.50" height="10.20" rx="1.4" fill="#53B74C" stroke="#2E2E2E" stroke-width="0.5"/>
<text x="536.05" y="604.25" font-size="7.21" fill="#000" text-anchor="middle">The Council of Elrond (feat. &quot;Aniron) (Theme for Aragorn and Arwen &quot;)</text>
<rect x="672.2" y="581.4" width="32.80" height="10.60" rx="1.4" fill="#E87D72" stroke="#2E2E2E" stroke-width="0.5"/>
<text x="688.60" y="589.25" font-size="7.21" fill="#000" text-anchor="middle">Day One</text>
<line x1="42.4" x2="44.2" y1="597.3" y2="597.3" stroke="#333" stroke-width="0.5"/>
<text x="41.2" y="599.3" font-size="5.57" fill="#4D4D4D" text-anchor="end">0.1</text>
<line x1="42.4" x2="44.2" y1="545.3" y2="545.3" stroke="#333" stroke-width="0.5"/>
<text x="41.2" y="547.3" font-size="5.57" fill="#4D4D4D" text-anchor="end">0.2</text>
<line x1="42.4" x2="44.2" y1="493.3" y2="493.3" stroke="#333" stroke-width="0.5"/>
<text x="41.2" y="495.3" font-size="5.57" fill="#4D4D4D" text-anchor="end">0.3</text>
<line x1="42.4" x2="44.2" y1="441.3" y2="441.3" stroke="#333" stroke-width="0.5"/>
<text x="41.2" y="443.3" font-size="5.57" fill="#4D4D4D" text-anchor="end">0.4</text>
<line x1="42.4" x2="44.2" y1="389.3" y2="389.3" stroke="#333" stroke-width="0.5"/>
<text x="41.2" y="391.3" font-size="5.57" fill="#4D4D4D" text-anchor="end">0.5</text>
<line x1="129.6" x2="129.6" y1="630.1" y2="631.9" stroke="#333" stroke-width="0.5"/>
<text x="129.6" y="637.8" font-size="5.57" fill="#4D4D4D" text-anchor="middle">55</text>
<line x1="354.8" x2="354.8" y1="630.1" y2="631.9" stroke="#333" stroke-width="0.5"/>
<text x="354.8" y="637.8" font-size="5.57" fill="#4D4D4D" text-anchor="middle">60</text>
<line x1="579.9" x2="579.9" y1="630.1" y2="631.9" stroke="#333" stroke-width="0.5"/>
<text x="579.9" y="637.8" font-size="5.57" fill="#4D4D4D" text-anchor="middle">65</text>
<line x1="805.1" x2="805.1" y1="630.1" y2="631.9" stroke="#333" stroke-width="0.5"/>
<text x="805.1" y="637.8" font-size="5.57" fill="#4D4D4D" text-anchor="middle">70</text>
<text x="489.7" y="646.3" font-size="6.9" fill="#000" text-anchor="middle">Popularity</text>
<text transform="translate(11.4,485.4) rotate(-90)" font-size="6.9" fill="#000" text-anchor="middle">Danceability</text>
<text x="946" y="471" font-size="6.9" fill="#000">Artist</text>
<rect x="947.1" y="474.20" width="9" height="10.1" rx="1.4" fill="#E87D72" stroke="#2E2E2E" stroke-width="0.5"/>
<text x="951.6" y="481.80" font-size="7.2" fill="#000" text-anchor="middle">a</text>
<text x="960.8" y="482.05" font-size="5.57" fill="#000">Hans Zimmer</text>
<rect x="947.1" y="485.40" width="9" height="10.1" rx="1.4" fill="#53B74C" stroke="#2E2E2E" stroke-width="0.5"/>
<text x="951.6" y="493.00" font-size="7.2" fill="#000" text-anchor="middle">a</text>
<text x="960.8" y="493.25" font-size="5.57" fill="#000">Howard Shore</text>
<rect x="947.1" y="496.60" width="9" height="10.1" rx="1.4" fill="#709BF8" stroke="#2E2E2E" stroke-width="0.5"/>
<text x="951.6" y="504.20" font-size="7.2" fill="#000" text-anchor="middle">a</text>
<text x="960.8" y="504.45" font-size="5.57" fill="#000">Johann Sebastian Bach</text>
</g>
</svg>
</body></html>
